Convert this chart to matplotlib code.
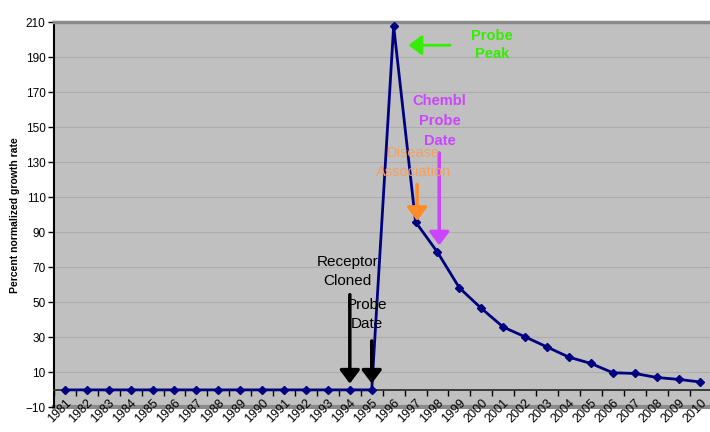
import numpy as np
import matplotlib
matplotlib.use('Agg')
import matplotlib.pyplot as plt

plt.rcParams['font.family'] = ['Liberation Sans', 'DejaVu Sans']

years = [str(y) for y in range(1981, 2011)]
growth = [0, 0, 0, 0, 0, 0, 0, 0, 0, 0, 0, 0, 0, 0, 0,
          208, 96, 78.7, 58.3, 46.6, 35.9, 30.3, 24.5, 18.7, 15.1,
          9.8, 9.4, 7.1, 6.0, 4.5]
yticks = list(range(-10, 211, 20))

x = np.arange(len(years))

fig = plt.figure(figsize=(7.1, 4.32), dpi=100)
ax = fig.add_axes([0.076, 0.057, 0.926, 0.891])
ax.set_facecolor('#c0c0c0')

ax.plot(x, growth, color='#000080', lw=2, marker='D', ms=4.5, zorder=5)

ax.set_xlim(-0.5, len(years) - 0.5)
ax.set_ylim(-10, 210)
ax.set_yticks(yticks)
for g in range(10, 211, 20):
    ax.axhline(g, color='#adadad', lw=0.8, zorder=1)

# x axis sits at y = 0, ticks at category boundaries
ax.spines['bottom'].set_position(('data', 0))
ax.spines['bottom'].set_color('#303030')
ax.spines['bottom'].set_linewidth(1.3)
ax.spines['left'].set_color('black')
ax.spines['left'].set_linewidth(1.5)
ax.spines['top'].set_color('#8a8a8a')
ax.spines['top'].set_linewidth(2.5)
ax.spines['right'].set_visible(False)
ax.plot([0, 1], [0, 0], transform=ax.transAxes, color='#8a8a8a', lw=3,
        clip_on=False, zorder=0)

ax.set_xticks(np.arange(len(years) + 1) - 0.5, minor=True)
ax.set_xticks(x)
ax.set_xticklabels(years, rotation=45, ha='right', rotation_mode='anchor',
                   fontsize=9)
ax.tick_params(axis='x', which='major', length=0, pad=5)
ax.tick_params(axis='x', which='minor', length=4, direction='out', width=1)
ax.tick_params(axis='y', length=4, direction='out', width=1, labelsize=8.5, pad=2)

ax.set_ylabel('Percent normalized growth rate', fontsize=7.5, fontweight='bold',
              labelpad=4)

arr = dict(arrowstyle='-|>,head_width=0.6,head_length=0.8', lw=2.5)

ax.annotate('', xy=(13, 2), xytext=(13, 56),
            arrowprops=dict(arr, color='black'), zorder=6)
ax.text(12.9, 67.5, 'Receptor\nCloned', ha='center', va='center', fontsize=11,
        linespacing=1.45, zorder=6)

ax.annotate('', xy=(14, 2), xytext=(14, 29.6),
            arrowprops=dict(arr, color='black'), zorder=6)
ax.text(13.8, 43, 'Probe\nDate', ha='center', va='center', fontsize=11,
        linespacing=1.45, zorder=6)

ax.annotate('', xy=(15.55, 197), xytext=(17.7, 197),
            arrowprops=dict(arr, color='#33ee00', lw=2), zorder=6)
ax.text(19.5, 197, 'Probe\nPeak', ha='center', va='center', fontsize=10.5,
        fontweight='bold', color='#33ee00', linespacing=1.4, zorder=6)

ax.annotate('', xy=(17.08, 81), xytext=(17.08, 137),
            arrowprops=dict(arr, color='#cc44ff'), zorder=6)
ax.text(17.1, 153.5, 'Chembl\nProbe\nDate', ha='center', va='center', fontsize=10.5,
        fontweight='bold', color='#cc44ff', linespacing=1.55, zorder=6)

ax.annotate('', xy=(16.07, 95), xytext=(16.07, 119),
            arrowprops=dict(arr, color='#ff8c2a'), zorder=6)
ax.text(15.9, 130, 'Disease\nAssociation', ha='center', va='center', fontsize=10.5,
        color='#f5a060', linespacing=1.45, zorder=6)

fig.savefig('out.png', dpi=100)
